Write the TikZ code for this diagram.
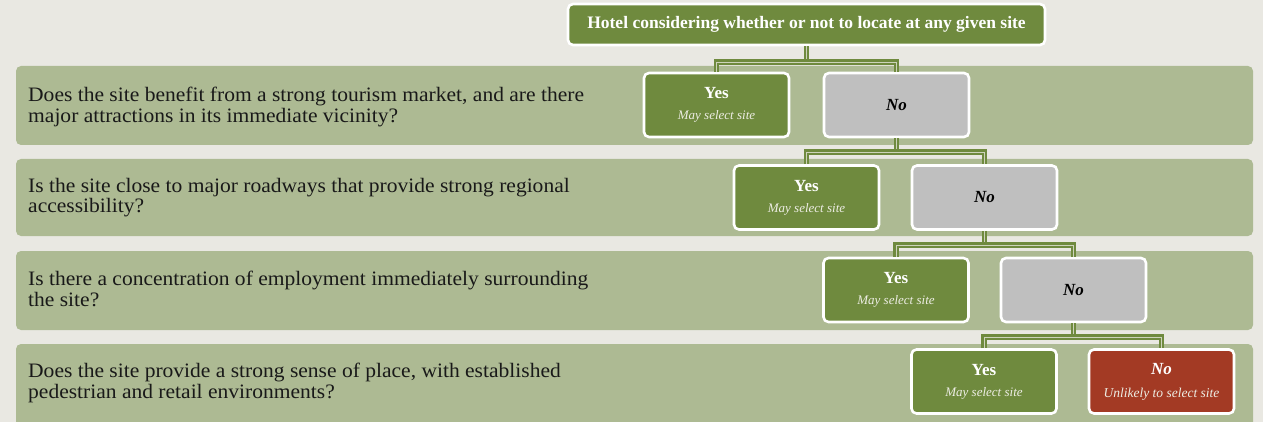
\documentclass[tikz,border=0pt]{standalone}
\usepackage{fontspec}
\setmainfont{Liberation Serif}
\newfontfamily\qfont[FakeStretch=1.05]{Liberation Serif}
\definecolor{bgc}{HTML}{E9E8E2}
\definecolor{bandc}{HTML}{ADBA93}
\definecolor{greenc}{HTML}{6F8A3E}
\definecolor{grayc}{HTML}{BFBFBF}
\definecolor{redc}{HTML}{A33A24}
\definecolor{subc}{HTML}{EDEDE4}
\tikzset{
  band/.style={fill=bandc, rounded corners=5pt, draw=none},
  qtext/.style={anchor=north west, align=left, inner sep=0pt, font=\qfont\fontsize{20.5}{20.5}\selectfont, text=black!90},
  boxbase/.style={draw=white, line width=2.6pt, rounded corners=5pt, minimum width=145pt, minimum height=64pt, align=center, inner sep=2pt},
  yesbox/.style={boxbase, fill=greenc, text=white},
  nobox/.style={boxbase, fill=grayc, text=black},
  redbox/.style={boxbase, fill=redc, text=white},
  topbox/.style={draw=white, line width=2.6pt, rounded corners=5pt, minimum width=477pt, minimum height=41pt, fill=greenc, text=white, font=\bfseries\fontsize{17.5}{19}\selectfont},
  conn/.style={draw=greenc, line width=2.6pt, double=subc!50!bandc, double distance=0.6pt},
}
\newcommand{\yestxt}{{\bfseries\fontsize{17}{18}\selectfont Yes}\\[9pt]{\itshape\color{subc}\fontsize{13}{14}\selectfont May select site}}
\newcommand{\notxt}{\bfseries\itshape\fontsize{17}{18}\selectfont No}
\begin{document}
\begin{tikzpicture}[x=1pt,y=-1pt]
\useasboundingbox (0,0) rectangle (1263,422);
\fill[bgc] (0,0) rectangle (1263,422);
% bands
\path[band] (16,66) rectangle (1253,145);
\path[band] (16,159) rectangle (1253,236);
\path[band] (16,251) rectangle (1253,330);
\path[band] (16,344) rectangle (1253,428);
% questions
\node[qtext] (q1) at (28,87) {Does the site benefit from a strong tourism market, and are there\\major attractions in its immediate vicinity?};
\node[qtext] (q2) at (28,178) {Is the site close to major roadways that provide strong regional\\accessibility?};
\node[qtext] (q3) at (28,271) {Is there a concentration of employment immediately surrounding\\the site?};
\node[qtext] (q4) at (28,363) {Does the site provide a strong sense of place, with established\\pedestrian and retail environments?};
% boxes
\node[topbox] (top) at (806.5,24.5) {Hotel considering whether or not to locate at any given site};
\node[yesbox] (y1) at (716.5,105) {\yestxt};
\node[nobox] (n1) at (896.5,105) {\notxt};
\node[yesbox] (y2) at (806.5,197.5) {\yestxt};
\node[nobox] (n2) at (984.5,197.5) {\notxt};
\node[yesbox] (y3) at (896,290) {\yestxt};
\node[nobox] (n3) at (1073.5,290) {\notxt};
\node[yesbox] (y4) at (984,381.5) {\yestxt};
\node[redbox] (n4) at (1161.5,381.5) {{\notxt}\\[11pt]{\itshape\color{subc}\fontsize{13.5}{14}\selectfont Unlikely to select site}};
% junctions
\path (top.south) ++(0,16) coordinate (j1);
\path (n1.south) ++(0,14) coordinate (j2);
\path (n2.south) ++(0,14) coordinate (j3);
\path (n3.south) ++(0,14) coordinate (j4);
% connectors
\draw[conn] (top.south) -- (j1);
\draw[conn] (y1.north) |- (j1) -| (n1.north);
\draw[conn] (n1.south) -- (j2);
\draw[conn] (y2.north) |- (j2) -| (n2.north);
\draw[conn] (n2.south) -- (j3);
\draw[conn] (y3.north) |- (j3) -| (n3.north);
\draw[conn] (n3.south) -- (j4);
\draw[conn] (y4.north) |- (j4) -| (n4.north);
\end{tikzpicture}
\end{document}
